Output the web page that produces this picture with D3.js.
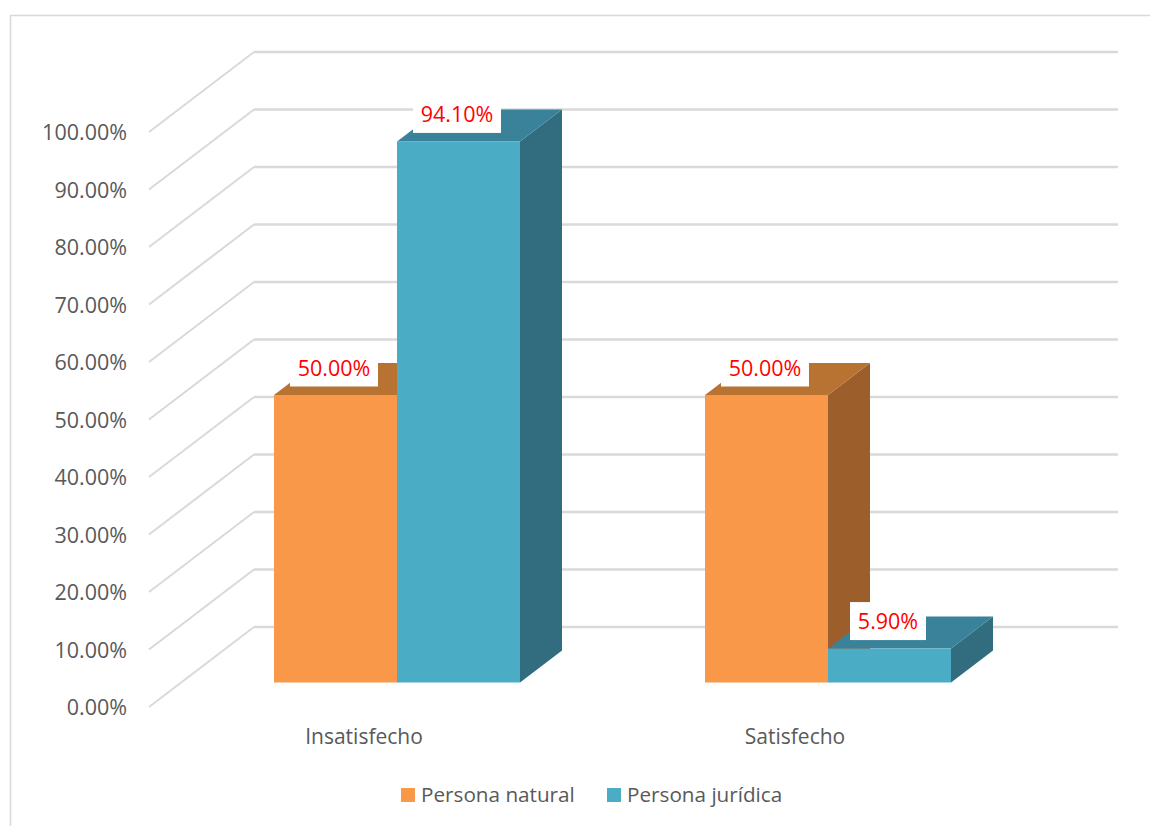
<!DOCTYPE html>
<html><head><meta charset="utf-8">
<script src="https://cdnjs.cloudflare.com/ajax/libs/d3/7.8.5/d3.min.js"></script>
<style>html,body{margin:0;padding:0;background:#fff}svg{display:block}text{font-family:"Open Sans","Noto Sans",sans-serif}</style>
</head><body><svg id="c" width="1150" height="826"></svg>
<script>
const categories = ["Insatisfecho","Satisfecho"];
const seriesNames = ["Persona natural","Persona jurídica"];
const personaNatural = [50.0,50.0];
const personaJuridica = [94.1,5.9];
const ticks = [0,10,20,30,40,50,60,70,80,90,100];
const colors = ["#FA984A","#4BACC6"];
const topColors = ["#B87333","#3A8299"];
const sideColors = ["#9C5E2B","#316D7E"];

const svg = d3.select("#c");
svg.append("rect").attr("x",10.5).attr("y",15.5).attr("width",1160).attr("height",830)
  .attr("fill","#fff").attr("stroke","#D9D9D9").attr("stroke-width",1.5);

const yBack = d3.scaleLinear().domain([0,100]).range([627,52]);
const yFront = d3.scaleLinear().domain([0,100]).range([682.5,107.5]);
const wall = {dx:105,dy:80}, depth = {dx:42,dy:32};
const xCat = d3.scaleBand().domain(categories).range([181.5,1043.5]);
const xSer = d3.scaleBand().domain([0,1]).range([-123,123]);

const grid = svg.append("g");
ticks.forEach(t=>{
  grid.append("path")
    .attr("d",d3.line()([[254-wall.dx,yBack(t)+wall.dy],[254,yBack(t)]]))
    .attr("fill","none").attr("stroke","#D9D9D9").attr("stroke-width",2);
  grid.append("path")
    .attr("d",d3.line()([[254,yBack(t)],[1118,yBack(t)]]))
    .attr("fill","none").attr("stroke","#D9D9D9").attr("stroke-width",2.5);
  svg.append("text").attr("x",127).attr("y",yBack(t)+wall.dy+0.5).attr("dy","0.35em")
    .attr("text-anchor","end").attr("font-size",21.5).attr("fill","#595959").text(d3.format(".2f")(t)+"%");
});

const vals=[personaNatural,personaJuridica];
const bars=[];
categories.forEach((c,i)=>vals.forEach((v,s)=>bars.push({c,i,s,v:v[i]})));
bars.forEach(b=>{
  b.x0 = xCat(b.c)+xCat.bandwidth()/2+xSer(b.s);
  b.x1 = b.x0+xSer.bandwidth();
  b.y0 = yFront(0); b.y1 = yFront(b.v);
});
const poly = p => d3.line()(p)+"Z";
const g = svg.append("g");
bars.forEach(b=>{
  const s=b.s;
  g.append("path").attr("d",poly([[b.x1,b.y1],[b.x1+depth.dx,b.y1-depth.dy],[b.x1+depth.dx,b.y0-depth.dy],[b.x1,b.y0]])).attr("fill",sideColors[s]);
  g.append("path").attr("d",poly([[b.x0,b.y1],[b.x0+depth.dx,b.y1-depth.dy],[b.x1+depth.dx,b.y1-depth.dy],[b.x1,b.y1]])).attr("fill",topColors[s]);
  g.append("rect").attr("x",b.x0).attr("y",b.y1).attr("width",b.x1-b.x0).attr("height",b.y0-b.y1).attr("fill",colors[s]);
});
bars.forEach(b=>{
  const txt=d3.format(".2f")(b.v)+"%";
  const cy=b.y1-27.5;
  const w=txt.length>5?88:76;
  const lx=(b.x0+b.x1)/2-1.5;
  svg.append("rect").attr("x",lx-w/2).attr("y",cy-19).attr("width",w).attr("height",38).attr("fill","#fff");
  svg.append("text").attr("x",lx).attr("y",cy+0.5).attr("dy","0.35em").attr("text-anchor","middle")
    .attr("font-size",21.5).attr("fill","#FF0000").text(txt);
});

categories.forEach(c=>{
  svg.append("text").attr("x",xCat(c)+xCat.bandwidth()/2-33).attr("y",737).attr("dy","0.35em")
    .attr("text-anchor","middle").attr("font-size",21).attr("fill","#595959").text(c);
});

const legendX=[401,607];
seriesNames.forEach((n,i)=>{
  svg.append("rect").attr("x",legendX[i]).attr("y",788).attr("width",14).attr("height",14).attr("fill",colors[i]);
  svg.append("text").attr("x",legendX[i]+20).attr("y",795).attr("dy","0.35em")
    .attr("font-size",20.7).attr("fill","#595959").text(n);
});
</script></body></html>
